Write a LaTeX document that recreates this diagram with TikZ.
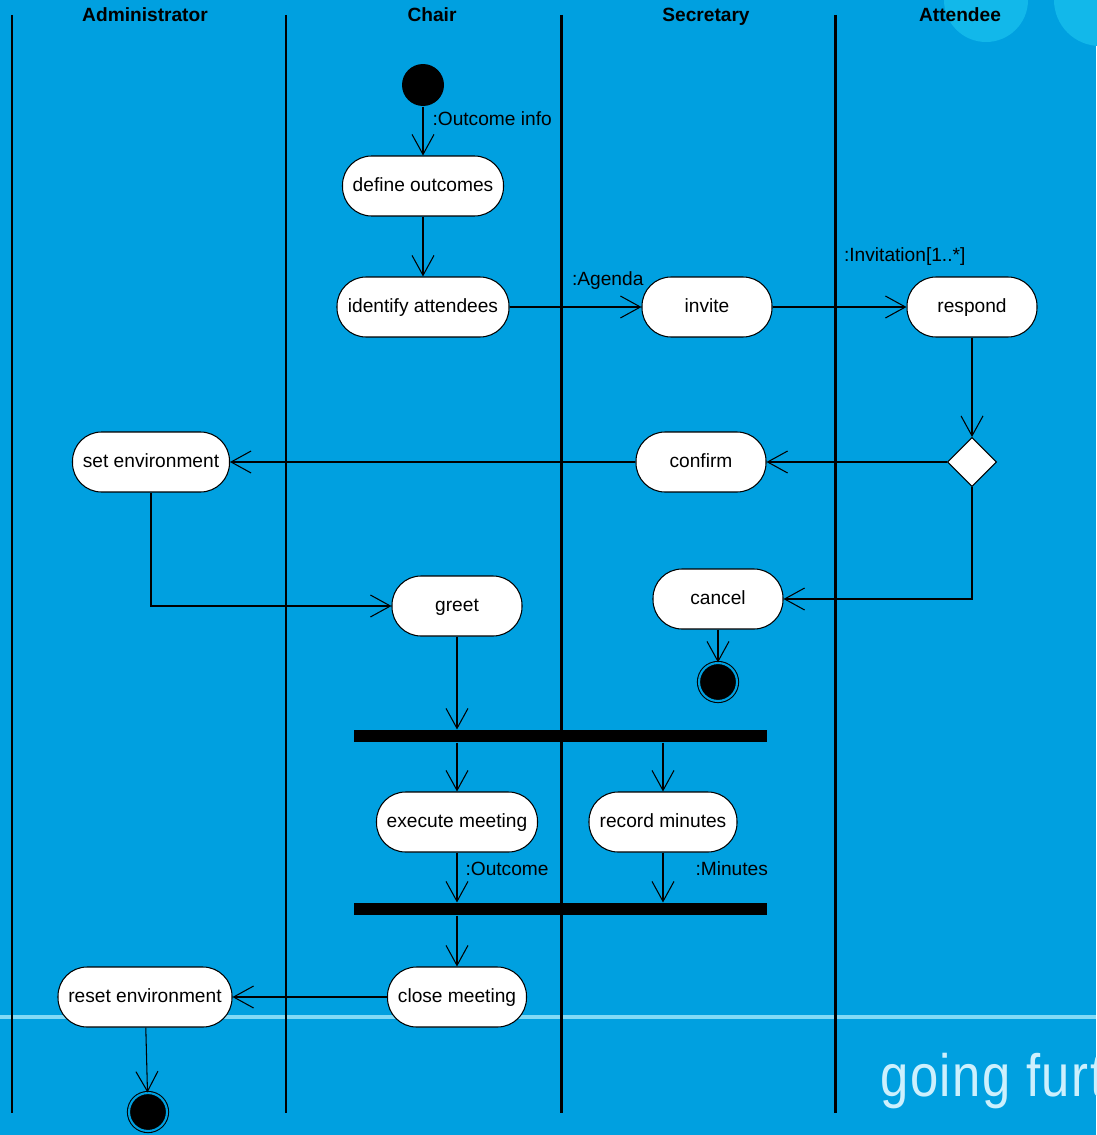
\documentclass[tikz,border=0pt]{standalone}
\usepackage{fontspec}
\setmainfont{Liberation Sans}
\newfontfamily\slogfont[LetterSpace=3]{Liberation Sans}
\usetikzlibrary{arrows.meta, positioning, shapes.geometric}
\definecolor{bgblue}{RGB}{0,160,224}
\definecolor{glow}{RGB}{18,184,234}
\definecolor{stripe}{RGB}{130,218,246}
\definecolor{slogan}{RGB}{205,240,253}
\def\actH{1.2cm}
\def\txt{\fontsize{10.9}{13}\selectfont}

\begin{document}
\begin{tikzpicture}[
    x=0.02cm, y=-0.02cm,
    line width=0.6pt,
    >={Straight Barb[length=4mm,width=4.4mm]},
    every node/.style={font=\txt},
    action/.style={rectangle, draw, fill=white, rounded corners=0.58cm, minimum height=\actH, inner sep=0pt,
        text height=0.75em, text depth=0.15em},
    startdot/.style={circle, fill=black, minimum size=0.84cm, inner sep=0pt},
    enddot/.style={circle, draw, fill=black, double=bgblue, double distance=1.2pt, minimum size=0.76cm, inner sep=0pt},
    decision/.style={diamond, draw, fill=white, minimum width=0.98cm, minimum height=0.98cm, inner sep=0pt},
    syncbar/.style={rectangle, fill=black, minimum width=8.26cm, minimum height=0.24cm, inner sep=0pt},
    lane/.style={line width=1.7pt},
    header/.style={font=\txt\bfseries, text height=0.75em, text depth=0.15em},
    lbl/.style={inner sep=0pt}
]
\useasboundingbox (0,0) rectangle (1096,1135);
\fill[bgblue] (0,0) rectangle (1096,1135);
\fill[glow] (986,0) circle[radius=42];
\fill[glow] (1100,0) circle[radius=46];
\draw[stripe, line width=2pt] (0,1017) -- (1096,1017);
\node[anchor=base west, text=slogan, font=\slogfont\fontsize{34}{40}\selectfont, xscale=0.85, inner sep=0pt] (slogan) at (880,1096) {going further};

% swimlanes
\foreach \x in {12,286,561,835}
    \draw[lane] (\x,15) -- (\x,1113);
\node[header] (h1) at (145,16) {Administrator};
\node[header] (h2) at (432,16) {Chair};
\node[header] (h3) at (706,16) {Secretary};
\node[header] (h4) at (960,16) {Attendee};

\node[startdot] (start) at (423,85) {};
\node[action, minimum width=3.22cm] (define) at (423,186) {define outcomes};
\node[action, minimum width=3.44cm] (identify) at (423,307) {identify attendees};
\node[action, minimum width=2.6cm] (invite) at (707,307) {invite};
\node[action, minimum width=2.6cm] (respond) at (972,307) {respond};
\node[decision] (choice) at (972,462) {};
\node[action, minimum width=2.6cm] (confirm) at (701,462) {confirm};
\node[action, minimum width=3.14cm] (setenv) at (151,462) {set environment};
\node[action, minimum width=2.6cm] (greet) at (457,606) {greet};
\node[action, minimum width=2.6cm] (cancel) at (718,599) {cancel};
\node[enddot] (end1) at (718,682) {};
\node[syncbar] (fork) at (560.5,736) {};
\node[action, minimum width=3.22cm] (execute) at (457,822) {execute meeting};
\node[action, minimum width=2.96cm] (record) at (663,822) {record minutes};
\node[syncbar] (join) at (560.5,909) {};
\node[action, minimum width=2.78cm] (close) at (457,997) {close meeting};
\node[action, minimum width=3.48cm] (reset) at (145,997) {reset environment};
\node[enddot] (end2) at (148,1112) {};

\draw[->] (start) -- node[lbl, pos=0.25, right=0.18cm] {:Outcome info} (define);
\draw[->] (define) -- (identify);
\draw[->] (identify) -- node[lbl, pos=0.47, anchor=south west, yshift=0.34cm] {:Agenda} (invite);
\draw[->] (invite) -- node[lbl, pos=0.53, anchor=south west, yshift=0.82cm] {:Invitation[1..*]} (respond);
\draw[->] (respond) -- (choice);
\draw[->] (choice) -- (confirm);
\draw[->] (confirm) -- (setenv);
\draw[->] (choice.south) |- (cancel.east);
\draw[->] (cancel) -- (end1);
\draw[->] (setenv.south) |- (greet.west);
\draw[->] (greet) -- (greet |- fork.north);
\draw[->] (fork.south -| execute) -- (execute);
\draw[->] (fork.south -| record) -- (record);
\draw[->] (execute) -- node[lbl, pos=0.33, right=0.16cm] {:Outcome} (execute |- join.north);
\draw[->] (record) -- node[lbl, pos=0.33, right=0.64cm] {:Minutes} (record |- join.north);
\draw[->] (join.south -| close) -- (close);
\draw[->] (close) -- (reset);
\draw[->] (reset) -- (end2);
\end{tikzpicture}
\end{document}
